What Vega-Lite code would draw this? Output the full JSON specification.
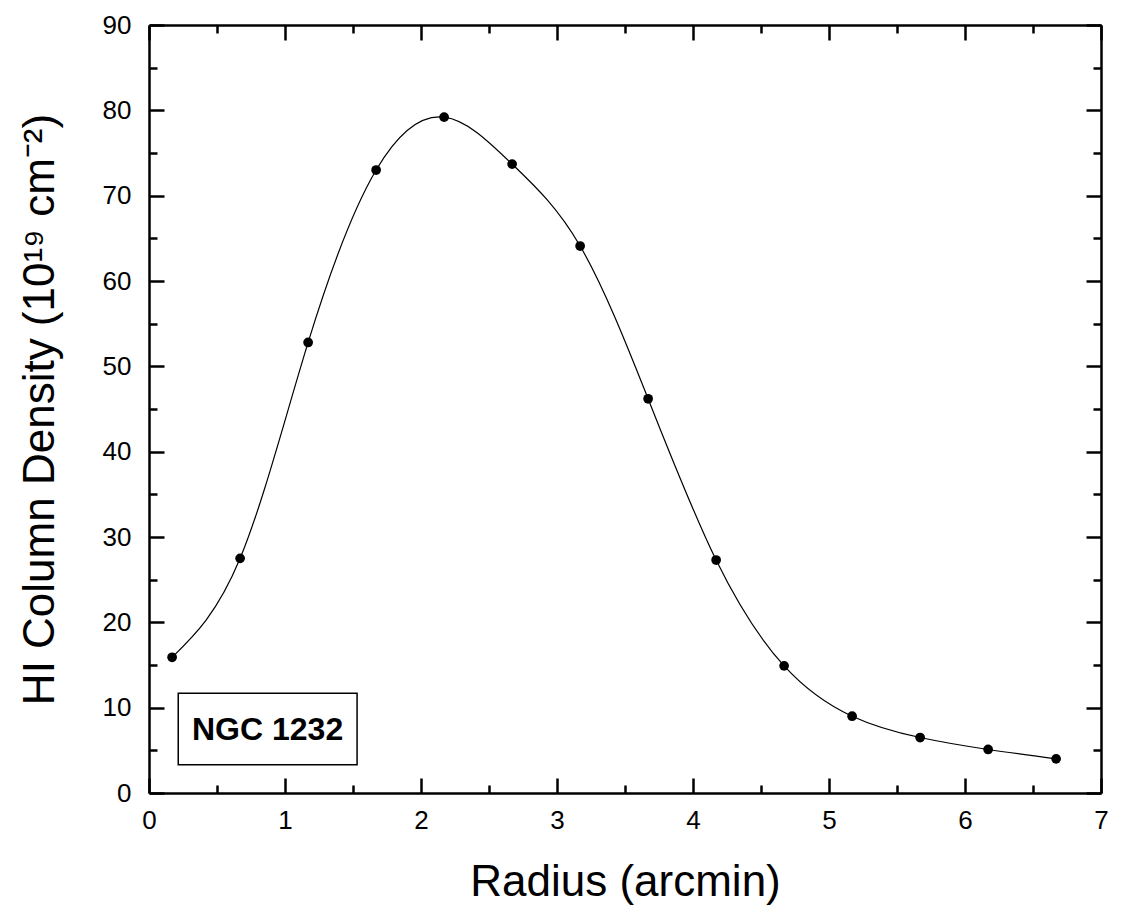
{
  "$schema": "https://vega.github.io/schema/vega-lite/v6.json",
  "width": 952,
  "height": 768,
  "autosize": "none",
  "padding": {"left": 149, "top": 25, "right": 24, "bottom": 120},
  "background": "white",
  "config": {
    "font": "Liberation Sans",
    "view": {"stroke": null},
    "axis": {
      "grid": false,
      "domainColor": "black",
      "domainWidth": 2.5,
      "tickColor": "black",
      "tickWidth": 2.5,
      "labelColor": "black",
      "labelFont": "Liberation Sans",
      "labelFontSize": 26,
      "titleColor": "black",
      "titleFont": "Liberation Sans",
      "titleFontSize": 44,
      "titleFontWeight": "normal"
    }
  },
  "data": {
    "values": [
      {"radius": 0.17, "density": 15.9},
      {"radius": 0.67, "density": 27.5},
      {"radius": 1.17, "density": 52.8},
      {"radius": 1.67, "density": 73.0},
      {"radius": 2.17, "density": 79.2},
      {"radius": 2.67, "density": 73.7},
      {"radius": 3.17, "density": 64.1},
      {"radius": 3.67, "density": 46.2},
      {"radius": 4.17, "density": 27.3},
      {"radius": 4.67, "density": 14.9},
      {"radius": 5.17, "density": 9.0},
      {"radius": 5.67, "density": 6.5},
      {"radius": 6.17, "density": 5.1},
      {"radius": 6.67, "density": 4.0}
    ]
  },
  "layer": [
    {
      "mark": {"type": "line", "interpolate": "natural", "color": "black", "strokeWidth": 1.2},
      "encoding": {
        "x": {
          "field": "radius", "type": "quantitative",
          "scale": {"domain": [0, 7], "nice": false, "zero": false},
          "axis": {
            "orient": "bottom", "values": [0, 1, 2, 3, 4, 5, 6, 7],
            "tickSize": -15, "labelPadding": 29, "labelFlush": false,
            "title": "Radius (arcmin)", "titlePadding": 27
          }
        },
        "y": {
          "field": "density", "type": "quantitative",
          "scale": {"domain": [0, 90], "nice": false, "zero": false},
          "axis": {
            "orient": "left", "values": [0, 10, 20, 30, 40, 50, 60, 70, 80, 90],
            "tickSize": -15, "labelPadding": 33, "labelFlush": false,
            "title": "HI Column Density (10¹⁹ cm⁻²)", "titlePadding": 40
          }
        }
      }
    },
    {
      "mark": {"type": "point", "filled": true, "color": "black", "size": 95, "opacity": 1},
      "encoding": {
        "x": {
          "field": "radius", "type": "quantitative",
          "axis": {
            "orient": "bottom", "values": [0.5, 1.5, 2.5, 3.5, 4.5, 5.5, 6.5],
            "tickSize": -8, "labels": false, "domain": false, "title": null
          }
        },
        "y": {
          "field": "density", "type": "quantitative",
          "axis": {
            "orient": "left", "values": [5, 15, 25, 35, 45, 55, 65, 75, 85],
            "tickSize": -8, "labels": false, "domain": false, "title": null
          }
        }
      }
    },
    {
      "data": {"values": [{"label": "NGC 1232"}]},
      "mark": {"type": "rect", "fill": "white", "stroke": "black", "strokeWidth": 1.5},
      "encoding": {
        "x": {
          "datum": 0.215, "type": "quantitative",
          "axis": {
            "orient": "top", "values": [0, 1, 2, 3, 4, 5, 6, 7],
            "tickSize": -15, "labels": false, "title": null
          }
        },
        "x2": {"datum": 1.53},
        "y": {
          "datum": 3.3, "type": "quantitative",
          "axis": {
            "orient": "right", "values": [0, 10, 20, 30, 40, 50, 60, 70, 80, 90],
            "tickSize": -15, "labels": false, "title": null
          }
        },
        "y2": {"datum": 11.7}
      }
    },
    {
      "data": {"values": [{"label": "NGC 1232"}]},
      "mark": {"type": "text", "font": "Liberation Sans", "fontSize": 32, "fontWeight": "bold", "color": "black", "align": "center", "baseline": "middle"},
      "encoding": {
        "text": {"field": "label"},
        "x": {
          "datum": 0.872, "type": "quantitative",
          "axis": {
            "orient": "top", "values": [0.5, 1.5, 2.5, 3.5, 4.5, 5.5, 6.5],
            "tickSize": -8, "labels": false, "domain": false, "title": null
          }
        },
        "y": {
          "datum": 7.4, "type": "quantitative",
          "axis": {
            "orient": "right", "values": [5, 15, 25, 35, 45, 55, 65, 75, 85],
            "tickSize": -8, "labels": false, "domain": false, "title": null
          }
        }
      }
    }
  ],
  "resolve": {"axis": {"x": "independent", "y": "independent"}}
}
